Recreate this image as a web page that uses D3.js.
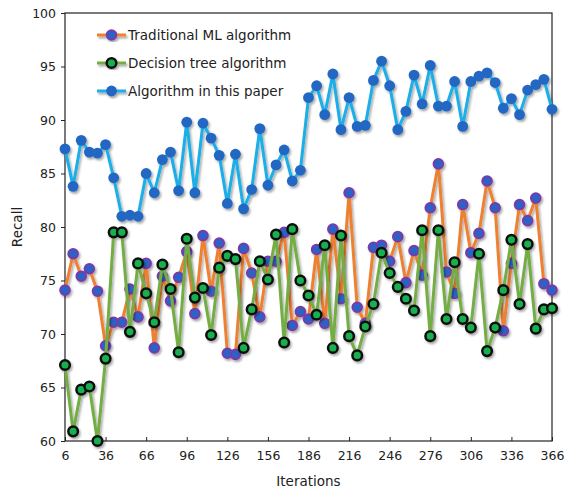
<!DOCTYPE html>
<html>
<head>
<meta charset="utf-8">
<script src="https://cdn.jsdelivr.net/npm/d3@7/dist/d3.min.js"></script>
<style>
    body { margin: 0; background: #fff; }
    svg text { font-family: "DejaVu Sans", Verdana, sans-serif; fill: #222; }
</style>
</head>
<body>
<div id="chart"></div>
<script>
// --- Data ---
const iterations = [6, 12, 18, 24, 30, 36, 42, 48, 54, 60, 66, 72, 78, 84, 90, 96, 102, 108, 114, 120,
    126, 132, 138, 144, 150, 156, 162, 168, 174, 180, 186, 192, 198, 204, 210, 216, 222, 228, 234, 240,
    246, 252, 258, 264, 270, 276, 282, 288, 294, 300, 306, 312, 318, 324, 330, 336, 342, 348, 354, 360, 366];

const traditionalML = [74.1, 77.5, 75.4, 76.1, 74.0, 68.9, 71.1, 71.1, 74.2, 71.6,
    76.6, 68.7, 75.4, 73.1, 75.3, 77.7, 71.9, 79.2, 74.0, 78.5,
    68.2, 68.1, 78.0, 75.7, 71.6, 76.8, 76.8, 79.5, 70.8, 72.1,
    71.4, 77.9, 71.0, 79.8, 73.3, 83.2, 72.5, 71.0, 78.1, 78.3,
    76.8, 79.1, 74.8, 77.8, 75.5, 81.8, 85.9, 75.8, 73.8, 82.1,
    77.6, 79.4, 84.3, 81.8, 70.3, 76.6, 82.1, 80.6, 82.7, 74.7, 74.1];

const decisionTree = [67.1, 60.9, 64.8, 65.1, 60.0, 67.7, 79.5, 79.5, 70.2, 76.6,
    73.8, 71.1, 76.5, 74.2, 68.3, 78.9, 73.4, 74.3, 69.9, 76.2,
    77.3, 77.0, 68.7, 72.3, 76.8, 75.1, 79.3, 69.2, 79.8, 75.0,
    73.6, 71.8, 78.3, 68.7, 79.2, 69.8, 68.0, 70.7, 72.8, 77.6,
    75.7, 74.4, 73.3, 72.2, 79.7, 69.8, 79.7, 71.4, 76.7, 71.4,
    70.6, 77.5, 68.4, 70.6, 74.1, 78.8, 72.8, 78.4, 70.5, 72.3, 72.4];

const thisPaper = [87.3, 83.8, 88.1, 87.0, 86.9, 87.7, 84.6, 81.0, 81.1, 81.0,
    85.0, 83.2, 86.3, 87.0, 83.4, 89.8, 83.2, 89.7, 88.3, 86.7,
    82.2, 86.8, 81.7, 83.5, 89.2, 83.9, 85.8, 87.2, 84.3, 85.3,
    92.1, 93.2, 90.5, 94.3, 89.1, 92.1, 89.4, 89.5, 93.7, 95.5,
    93.2, 89.1, 90.8, 94.2, 91.5, 95.1, 91.3, 91.3, 93.6, 89.4,
    93.6, 94.1, 94.4, 93.5, 91.1, 92.0, 90.5, 92.8, 93.3, 93.8, 91.0];

const seriesNames = ["Traditional ML algorithm", "Decision tree algorithm", "Algorithm in this paper"];
const xTicks = [6, 36, 66, 96, 126, 156, 186, 216, 246, 276, 306, 336, 366];
const yTicks = [60, 65, 70, 75, 80, 85, 90, 95, 100];

// --- Layout ---
const W = 565, H = 488;
const margin = { top: 13, right: 13, bottom: 47, left: 65 };
const innerW = W - margin.left - margin.right;
const innerH = H - margin.top - margin.bottom;

const series = [
    { name: seriesNames[0], values: traditionalML, line: "#ee8033", fill: "#2a63c6", stroke: "#7a3aa8", sw: 2 },
    { name: seriesNames[1], values: decisionTree, line: "#74ad45", fill: "#15b04f", stroke: "#111", sw: 2.5 },
    { name: seriesNames[2], values: thisPaper, line: "#1aaee8", fill: "#2467c2", stroke: "#2467c2", sw: 0 }
];

const svg = d3.select("#chart").append("svg")
    .attr("width", W).attr("height", H);

const defs = svg.append("defs");
const shadow = defs.append("filter").attr("id", "shadow")
    .attr("x", "-20%").attr("y", "-20%").attr("width", "140%").attr("height", "140%");
shadow.append("feDropShadow").attr("dx", 1.5).attr("dy", 2).attr("stdDeviation", 1.3)
    .attr("flood-color", "#000").attr("flood-opacity", 0.35);

const g = svg.append("g").attr("transform", `translate(${margin.left},${margin.top})`);

const x = d3.scaleLinear().domain([6, 366]).range([0, innerW]);
const y = d3.scaleLinear().domain([60, 100]).range([innerH, 0]);

// Axes
const xAxis = g.append("g").attr("transform", `translate(0,${innerH})`)
    .call(d3.axisBottom(x).tickValues(xTicks).tickSizeInner(-4).tickSizeOuter(0).tickPadding(10));
const yAxis = g.append("g")
    .call(d3.axisLeft(y).tickValues(yTicks).tickSizeInner(4).tickSizeOuter(0).tickPadding(5));

[xAxis, yAxis].forEach(a => {
    a.selectAll("path").remove();
    a.selectAll("line").attr("stroke", "#222");
    a.selectAll("text").style("font-size", "12.5px").attr("fill", "#222");
});

// Frame
g.append("rect").attr("width", innerW).attr("height", innerH)
    .attr("fill", "none").attr("stroke", "#222").attr("stroke-width", 1.2);

// Axis titles
svg.append("text").attr("x", margin.left + innerW / 2).attr("y", 486)
    .attr("text-anchor", "middle").style("font-size", "13.5px").text("Iterations");
svg.append("text").attr("transform", `translate(22,${margin.top + innerH / 2}) rotate(-90)`)
    .attr("text-anchor", "middle").style("font-size", "13.5px").text("Recall");

// Series
const line = d3.line().x((d, i) => x(iterations[i])).y(d => y(d));

series.forEach(s => {
    const sg = g.append("g").attr("filter", "url(#shadow)");
    sg.append("path").datum(s.values)
        .attr("d", line)
        .attr("fill", "none").attr("stroke", s.line).attr("stroke-width", 3)
        .attr("stroke-linejoin", "round");
    sg.selectAll("circle").data(s.values).join("circle")
        .attr("cx", (d, i) => x(iterations[i]))
        .attr("cy", d => y(d))
        .attr("r", s.sw ? 4.8 : 5.4)
        .attr("fill", s.fill)
        .attr("stroke", s.stroke)
        .attr("stroke-width", s.sw);
});

// Legend
const legend = g.append("g").attr("transform", "translate(32,22)");
series.forEach((s, i) => {
    const row = legend.append("g").attr("transform", `translate(0,${i * 28})`);
    const rg = row.append("g").attr("filter", "url(#shadow)");
    rg.append("line").attr("x1", 0).attr("x2", 29).attr("y1", 0).attr("y2", 0)
        .attr("stroke", s.line).attr("stroke-width", 3);
    rg.append("circle").attr("cx", 14.5).attr("cy", 0).attr("r", s.sw ? 4.8 : 5.4)
        .attr("fill", s.fill).attr("stroke", s.stroke).attr("stroke-width", s.sw);
    row.append("text").attr("x", 31).attr("y", 0).attr("dy", "0.35em")
        .style("font-size", "13.5px").text(s.name);
});
</script>
</body>
</html>
